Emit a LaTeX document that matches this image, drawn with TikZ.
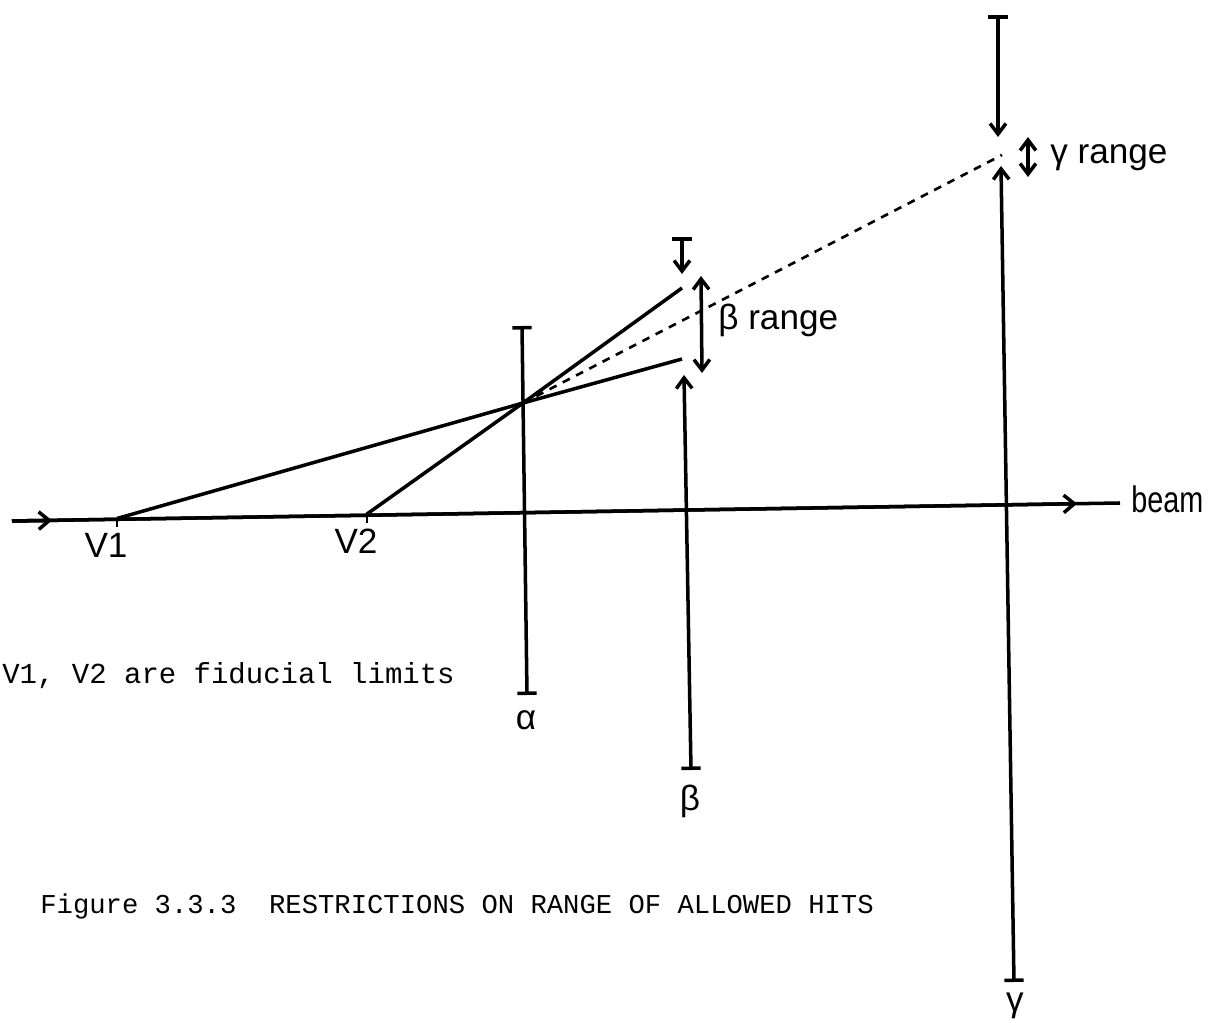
\documentclass[tikz,border=0pt]{standalone}
\usepackage{fontspec}
\setmainfont{Liberation Sans}
\setmonofont{Liberation Mono}
\usetikzlibrary{arrows.meta, positioning}

\begin{document}
\begin{tikzpicture}[
    x=0.02cm, y=-0.02cm,
    track/.style={line width=2pt},
    plane/.style={line width=2pt},
    barend/.style={{Bar[width=11pt]}-{Bar[width=11pt]}},
    stopper/.style={{Bar[width=11pt]}-{Straight Barb[length=6pt,width=9pt]}},
    rangebar/.style={{Straight Barb[length=6pt,width=9pt]}-{Straight Barb[length=6pt,width=9pt]}},
    beamarrow/.style={-{Straight Barb[length=6pt,width=10pt]}},
    extrap/.style={line width=1.5pt, dash pattern=on 4.5pt off 4pt},
    lbl/.style={font=\fontsize{20}{24}\selectfont, inner sep=0pt},
    typed/.style={font=\ttfamily\fontsize{16.5}{20}\selectfont, inner sep=0pt, anchor=west}
  ]
    \useasboundingbox (0,0) rectangle (1208,1023);

    % beam and fiducial limits
    \coordinate (bstart) at (12,521);
    \coordinate (bend) at (1120,503);
    \coordinate (barrA) at (52,520.4);
    \coordinate (barrB) at (1077,503.7);
    \coordinate (V1) at (117,518.5);
    \coordinate (V2) at (367,514);
    \draw[track] (bstart) -- (bend);
    \draw[track, beamarrow] (bstart) -- (barrA);
    \draw[track, beamarrow] (bstart) -- (barrB);
    \draw[line width=1.2pt] (V1) -- ++(0,9);
    \draw[line width=1.2pt] (V2) -- ++(0,9);
    \node[lbl] (v1lbl) at (106,545) {V1};
    \node[lbl] (v2lbl) at (356,541) {V2};
    \node[lbl, anchor=west, font=\fontsize{21}{24}\selectfont, xscale=0.78] (beamlbl) at (1131,499) {beam};

    % tracks through the hit on alpha
    \coordinate (hit) at (523,403);
    \coordinate (bhi) at (682,288);
    \coordinate (blo) at (682,359);
    \coordinate (gmid) at (1002,155);
    \draw[track] (V1) -- (hit) -- (blo);
    \draw[track] (V2) -- (hit) -- (bhi);
    \draw[extrap] (hit) -- (gmid);

    % alpha plane
    \coordinate (atop) at (522,326);
    \coordinate (abot) at (527,695);
    \draw[plane, barend] (atop) -- (abot);
    \node[lbl] (albl) at (526,720) {α};

    % beta plane
    \coordinate (btop) at (682,237);
    \coordinate (btip) at (682,274);
    \coordinate (bbot) at (691,770);
    \coordinate (bup) at (684,375);
    \draw[plane, stopper] (btop) -- (btip);
    \draw[plane, stopper] (bbot) -- (bup);
    \node[lbl] (blbl) at (690,801) {β};
    \coordinate (brA) at (701,276);
    \coordinate (brB) at (702,373);
    \draw[plane, rangebar] (brA) -- (brB);
    \node[lbl, anchor=west] (brlbl) at (718,320) {β range};

    % gamma plane
    \coordinate (gtop) at (998,15);
    \coordinate (gtip) at (998,137);
    \coordinate (gbot) at (1014,982);
    \coordinate (gup) at (1001,166);
    \draw[plane, stopper] (gtop) -- (gtip);
    \draw[plane, stopper] (gbot) -- (gup);
    \node[lbl] (glbl) at (1015,1006) {γ};
    \coordinate (grA) at (1028,137);
    \coordinate (grB) at (1028,177);
    \draw[plane, rangebar] (grA) -- (grB);
    \node[lbl, anchor=west] (grlbl) at (1050,158) {γ range};

    % notes
    \node[typed] (note) at (2,676) {V1, V2 are fiducial limits};
    \node[typed, font=\ttfamily\fontsize{15.5}{19}\selectfont] (caption) at (40,906)
      {Figure 3.3.3\ \ RESTRICTIONS ON RANGE OF ALLOWED HITS};
  \end{tikzpicture}
\end{document}
